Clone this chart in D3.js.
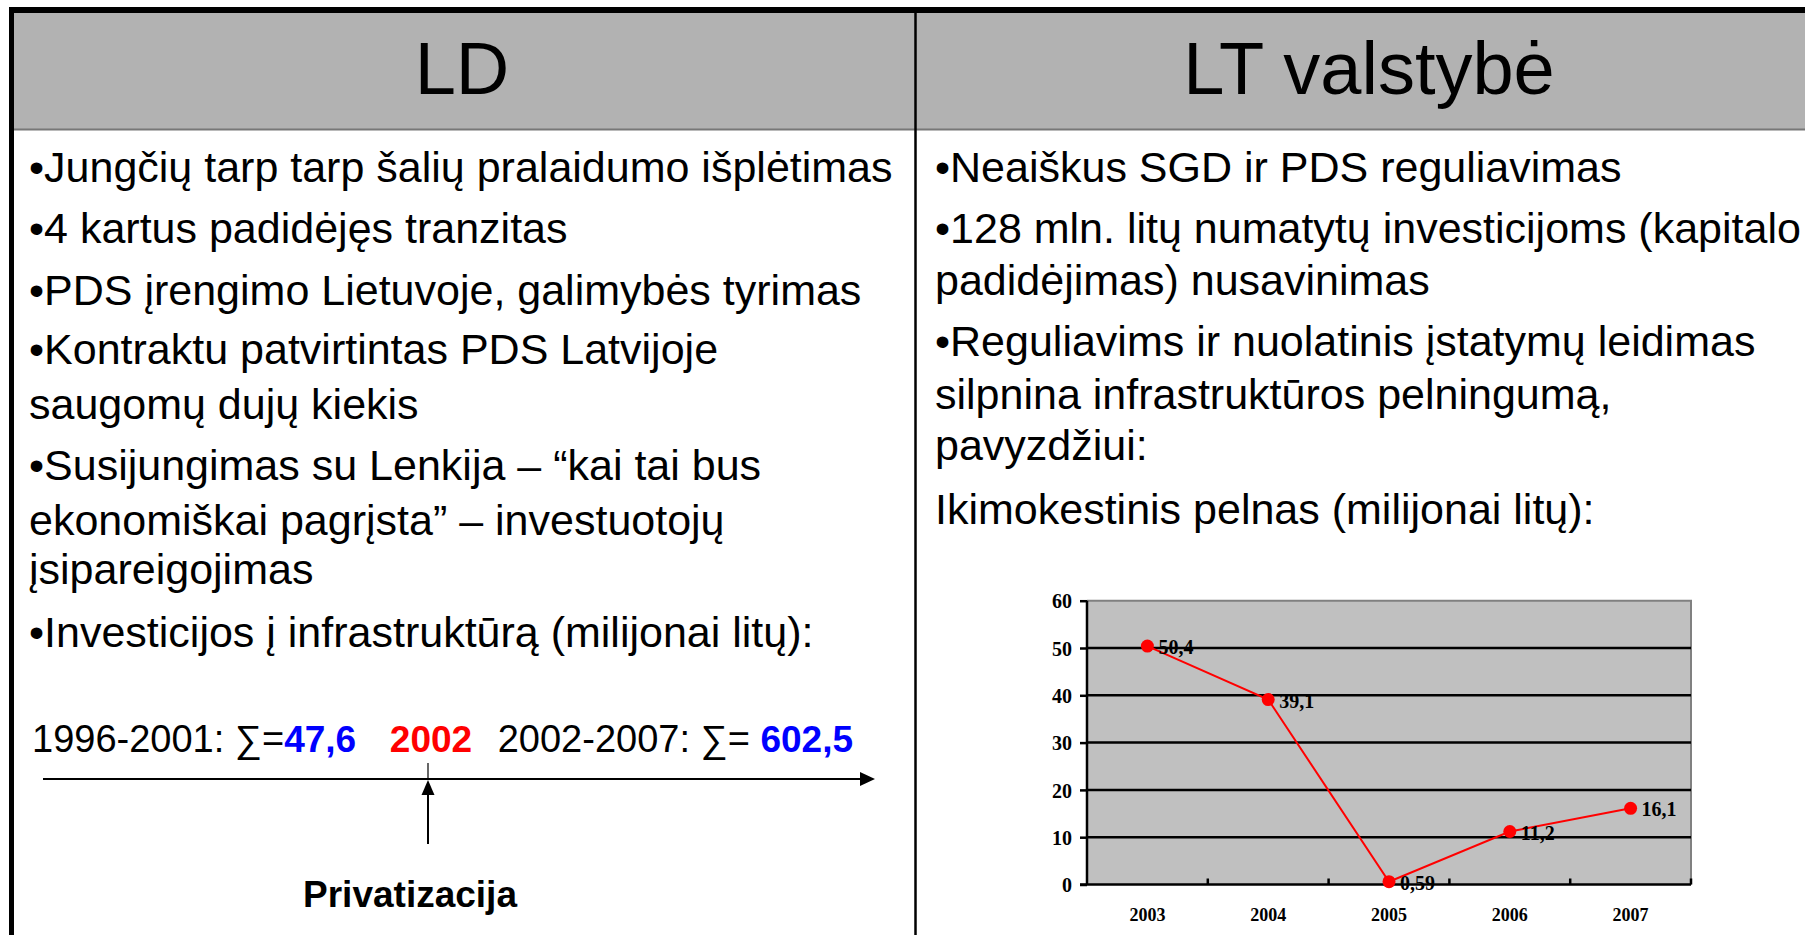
<!DOCTYPE html>
<html>
<head>
<meta charset="utf-8">
<script src="https://d3js.org/d3.v7.min.js"></script>
<style>
  html, body { margin: 0; padding: 0; background: #fff; }
  svg { display: block; }
  .sans { font-family: "Liberation Sans", Arial, sans-serif; }
  .serif { font-family: "Liberation Serif", "Times New Roman", serif; font-weight: bold; }
</style>
</head>
<body>
<svg id="slide"></svg>
<script>
// ---- data ----
var titles = ["LD", "LT valstybė"];

var leftLines = [
  "•Jungčių tarp tarp šalių pralaidumo išplėtimas",
  "•4 kartus padidėjęs tranzitas",
  "•PDS įrengimo Lietuvoje, galimybės tyrimas",
  "•Kontraktu patvirtintas PDS Latvijoje",
  "saugomų dujų kiekis",
  "•Susijungimas su Lenkija – “kai tai bus",
  "ekonomiškai pagrįsta” – investuotojų",
  "įsipareigojimas",
  "•Investicijos į infrastruktūrą (milijonai litų):"
];

var rightLines = [
  "•Neaiškus SGD ir PDS reguliavimas",
  "•128 mln. litų numatytų investicijoms (kapitalo",
  "padidėjimas) nusavinimas",
  "•Reguliavims ir nuolatinis įstatymų leidimas",
  "silpnina infrastruktūros pelningumą,",
  "pavyzdžiui:",
  "Ikimokestinis pelnas (milijonai litų):"
];

var periods = ["1996-2001", "2002-2007"];
var periodSums = [47.6, 602.5];
var privYear = "2002";
var privLabel = "Privatizacija";

var years = ["2003", "2004", "2005", "2006", "2007"];
var profit = [50.4, 39.1, 0.59, 11.2, 16.1];
var yTicks = [0, 10, 20, 30, 40, 50, 60];

// ---- layout ----
var W = 1805, H = 935;
var leftBaselines = [182, 243, 305, 364, 419, 480, 535, 584, 647];
var rightBaselines = [182, 243, 295, 356, 409, 460, 524];

var svg = d3.select("#slide").attr("width", W).attr("height", H);

// decimal comma, as on the slide
var fmt = function (v) { return String(v).replace(".", ","); };

// table frame
svg.append("rect").attr("x", 11.5).attr("y", 13).attr("width", W).attr("height", 116)
  .attr("fill", "#b2b2b2");
svg.append("line").attr("x1", 12).attr("x2", W).attr("y1", 129.5).attr("y2", 129.5)
  .attr("stroke", "#777").attr("stroke-width", 2);
svg.append("line").attr("x1", 9).attr("x2", W).attr("y1", 10).attr("y2", 10)
  .attr("stroke", "#000").attr("stroke-width", 6);
svg.append("line").attr("x1", 11.5).attr("x2", 11.5).attr("y1", 7).attr("y2", H)
  .attr("stroke", "#000").attr("stroke-width", 5);
svg.append("line").attr("x1", 915.5).attr("x2", 915.5).attr("y1", 13).attr("y2", H)
  .attr("stroke", "#000").attr("stroke-width", 2.5);

// titles
svg.selectAll("text.title").data(titles).enter().append("text")
  .attr("class", "title sans")
  .attr("x", function (d, i) { return i ? 1369 : 462; })
  .attr("y", 94)
  .attr("text-anchor", "middle")
  .attr("font-size", 74)
  .text(function (d) { return d; });

// body text
svg.selectAll("text.lt").data(leftLines).enter().append("text")
  .attr("class", "lt sans").attr("x", 29)
  .attr("y", function (d, i) { return leftBaselines[i]; })
  .attr("font-size", 43).text(function (d) { return d; });

svg.selectAll("text.rt").data(rightLines).enter().append("text")
  .attr("class", "rt sans").attr("x", 935)
  .attr("y", function (d, i) { return rightBaselines[i]; })
  .attr("font-size", 43).text(function (d) { return d; });

// timeline
var t1 = svg.append("text").attr("class", "sans").attr("x", 32).attr("y", 752).attr("font-size", 38);
t1.append("tspan").text(periods[0] + ": ∑=");
t1.append("tspan").attr("fill", "#0000ff").attr("font-weight", "bold").attr("font-size", 37)
  .text(fmt(periodSums[0]));

svg.append("text").attr("class", "sans").attr("x", 431).attr("y", 752)
  .attr("text-anchor", "middle").attr("font-size", 37).attr("font-weight", "bold")
  .attr("fill", "#ff0000").text(privYear);

var t2 = svg.append("text").attr("class", "sans").attr("x", 853).attr("y", 752)
  .attr("text-anchor", "end").attr("font-size", 38);
t2.append("tspan").text(periods[1] + ": ∑= ");
t2.append("tspan").attr("fill", "#0000ff").attr("font-weight", "bold").attr("font-size", 37)
  .text(fmt(periodSums[1]));

svg.append("line").attr("x1", 43).attr("x2", 864).attr("y1", 779).attr("y2", 779)
  .attr("stroke", "#000").attr("stroke-width", 2);
svg.append("path").attr("d", "M875,779 L860,772 L860,786 Z").attr("fill", "#000");
svg.append("line").attr("x1", 428).attr("x2", 428).attr("y1", 763).attr("y2", 779)
  .attr("stroke", "#000").attr("stroke-width", 1.2);
svg.append("line").attr("x1", 428).attr("x2", 428).attr("y1", 792).attr("y2", 844)
  .attr("stroke", "#000").attr("stroke-width", 2);
svg.append("path").attr("d", "M428,780 L421.5,795 L434.5,795 Z").attr("fill", "#000");
svg.append("text").attr("class", "sans").attr("x", 410).attr("y", 907)
  .attr("text-anchor", "middle").attr("font-size", 37).attr("font-weight", "bold")
  .text(privLabel);

// ---- profit chart ----
var x = d3.scaleBand().domain(years).range([1087, 1691]);
var y = d3.scaleLinear().domain([0, 60]).range([884.5, 600.7]);
var chart = svg.append("g");

chart.append("rect").attr("x", x.range()[0]).attr("y", y(60))
  .attr("width", x.range()[1] - x.range()[0]).attr("height", y(0) - y(60))
  .attr("fill", "#c0c0c0");
chart.append("path")
  .attr("d", "M" + x.range()[0] + "," + y(60) + "H" + x.range()[1] + "V" + y(0))
  .attr("fill", "none").attr("stroke", "#808080").attr("stroke-width", 2);

chart.selectAll("line.grid").data(yTicks.slice(1, -1)).enter().append("line")
  .attr("x1", x.range()[0]).attr("x2", x.range()[1])
  .attr("y1", function (d) { return y(d); }).attr("y2", function (d) { return y(d); })
  .attr("stroke", "#000").attr("stroke-width", 2.5);

var yAxis = chart.append("g").attr("transform", "translate(" + x.range()[0] + ",0)")
  .call(d3.axisLeft(y).tickValues(yTicks).tickSize(7).tickPadding(8).tickFormat(d3.format("d")));
yAxis.selectAll("line, path").attr("stroke", "#000").attr("stroke-width", 2.5);
yAxis.select(".domain").attr("d", "M0," + y(60) + "V" + y(0));
yAxis.selectAll("text").attr("class", "serif").attr("font-size", 20).attr("fill", "#000")
  .attr("dy", "0.36em");

var xAxis = chart.append("g").attr("transform", "translate(0," + y(0) + ")")
  .call(d3.axisBottom(x).tickSize(0).tickPadding(24));
xAxis.select(".domain").attr("d", "M" + (x.range()[0] - 7) + ",0H" + x.range()[1])
  .attr("stroke", "#000").attr("stroke-width", 2.5);
xAxis.selectAll("text").attr("class", "serif").attr("font-size", 18).attr("fill", "#000");
// category boundary ticks, pointing into the plot
xAxis.selectAll("line.bound").data(years.slice(1).concat(["end"])).enter().append("line")
  .attr("class", "bound")
  .attr("x1", function (d) { return d === "end" ? x.range()[1] : x(d); })
  .attr("x2", function (d) { return d === "end" ? x.range()[1] : x(d); })
  .attr("y1", 0).attr("y2", -6).attr("stroke", "#000").attr("stroke-width", 2.5);

var cx = function (d, i) { return x(years[i]) + x.bandwidth() / 2; };
chart.append("path").datum(profit)
  .attr("d", d3.line().x(cx).y(function (d) { return y(d); }))
  .attr("fill", "none").attr("stroke", "#ff0000").attr("stroke-width", 2);
chart.selectAll("circle.pt").data(profit).enter().append("circle")
  .attr("cx", cx).attr("cy", function (d) { return y(d); }).attr("r", 6.5)
  .attr("fill", "#ff0000");
chart.selectAll("text.lbl").data(profit).enter().append("text")
  .attr("class", "serif")
  .attr("x", function (d, i) { return cx(d, i) + 11; })
  .attr("y", function (d) { return y(d) + 8; })
  .attr("font-size", 20).text(fmt);
</script>
</body>
</html>
